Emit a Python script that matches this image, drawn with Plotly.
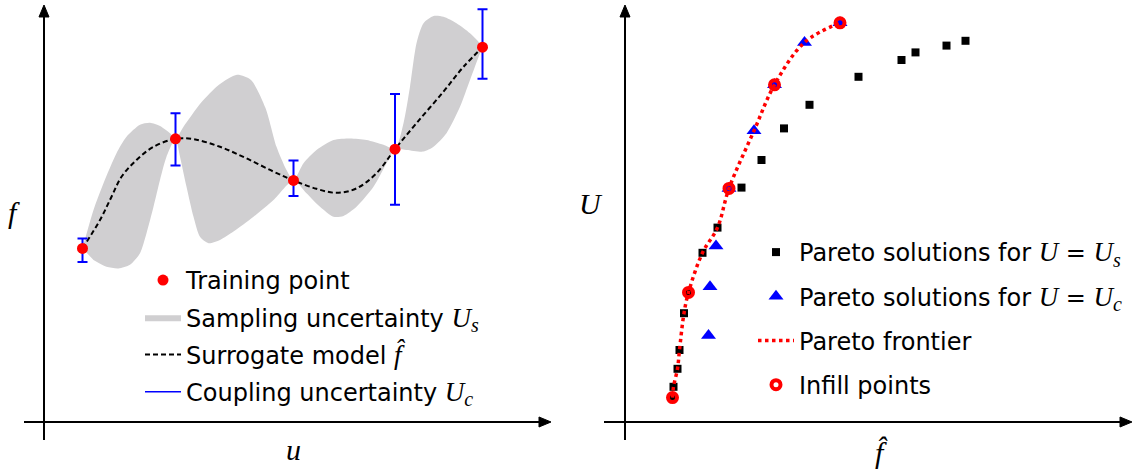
import plotly.graph_objects as go

W, H = 1137, 470

# ---------------- Left panel data (u, f in arbitrary units) ----------------
train_u = [0.77, 2.63, 4.99, 7.02, 8.77]
train_f = [4.34, 7.08, 6.04, 6.82, 9.37]
uc_plus = [0.25, 0.64, 0.50, 1.38, 0.95]
uc_minus = [0.34, 0.67, 0.39, 1.39, 0.79]

surr_u = [0.77, 1.12, 1.35, 1.55, 1.85, 2.19, 2.63, 2.99, 3.52, 4.05, 4.59,
          4.99, 5.45, 5.85, 6.25, 6.65, 7.02, 7.45, 7.99, 8.39, 8.77]
surr_f = [4.34, 5.05, 5.63, 6.13, 6.55, 6.88, 7.08, 7.07, 6.88, 6.59, 6.26,
          6.04, 5.83, 5.73, 5.84, 6.22, 6.82, 7.47, 8.26, 8.88, 9.37]

band_up_u = [0.77, 0.99, 1.19, 1.45, 1.65, 1.92, 2.12, 2.32, 2.52, 2.63, 2.79,
             3.14, 3.50, 3.86, 4.14, 4.43, 4.65, 4.85, 4.99, 5.19, 5.45, 5.79,
             6.12, 6.45, 6.79, 7.02, 7.19, 7.32, 7.45, 7.59, 7.79, 7.99, 8.25,
             8.52, 8.77]
band_up_f = [4.34, 5.30, 5.97, 6.72, 7.13, 7.43, 7.48, 7.40, 7.22, 7.08, 7.38,
             7.98, 8.43, 8.68, 8.55, 7.85, 6.88, 6.30, 6.04, 6.47, 6.80, 7.05,
             7.09, 7.05, 6.93, 6.82, 7.47, 8.38, 9.47, 9.97, 10.15, 10.13, 9.97,
             9.72, 9.37]
band_lo_u = [0.77, 0.99, 1.25, 1.49, 1.72, 1.92, 2.05, 2.19, 2.32, 2.45, 2.63,
             2.72, 2.85, 2.99, 3.12, 3.29, 3.52, 3.79, 4.19, 4.59, 4.99, 5.25,
             5.52, 5.79, 5.99, 6.25, 6.59, 6.85, 7.02, 7.25, 7.59, 7.79, 8.05,
             8.32, 8.52, 8.72, 8.77]
band_lo_f = [4.34, 4.05, 3.88, 3.84, 3.93, 4.22, 4.72, 5.38, 6.05, 6.63, 7.08,
             6.63, 5.88, 5.13, 4.63, 4.47, 4.55, 4.76, 5.13, 5.55, 6.04, 5.72,
             5.38, 5.13, 5.15, 5.38, 5.88, 6.47, 6.82, 6.80, 6.76, 6.88, 7.22,
             7.88, 8.55, 9.22, 9.37]

# ---------------- Right panel data (f_hat, U in arbitrary units) ----------------
us_F = [0.95, 0.97, 1.05, 1.09, 1.18, 1.27, 1.55, 1.85, 2.33, 2.73, 3.18, 3.69,
        4.67, 5.53, 5.81, 6.43, 6.81]
us_U = [0.61, 0.88, 1.33, 1.80, 2.72, 3.24, 4.23, 4.86, 5.86, 6.55, 7.34, 7.93,
        8.63, 9.05, 9.24, 9.41, 9.53]
uc_F = [1.67, 1.70, 1.82, 2.08, 2.58, 2.99, 3.59, 4.30]
uc_U = [2.16, 3.38, 4.40, 5.84, 7.28, 8.43, 9.49, 9.98]
front_F = [0.95, 0.97, 1.05, 1.09, 1.18, 1.27, 1.55, 1.85, 2.08, 2.58, 2.99, 3.59, 4.30]
front_U = [0.61, 0.88, 1.33, 1.80, 2.72, 3.24, 4.23, 4.86, 5.84, 7.28, 8.43, 9.49, 9.98]
infill_F = [0.95, 1.27, 2.08, 2.99, 4.30]
infill_U = [0.61, 3.24, 5.84, 8.43, 9.98]

SERIF = "Liberation Serif"
def m(s, size=27):
    return f'<span style="font-family:{SERIF};font-size:{size}px"><i>{s}</i></span>'

def sub(s):
    return "<sub>" + m(s, 20) + "</sub>"

fig = go.Figure()

# band
fig.add_trace(go.Scatter(
    x=band_up_u + band_lo_u[-2:0:-1], y=band_up_f + band_lo_f[-2:0:-1],
    mode="lines", fill="toself", fillcolor="rgb(208,207,209)",
    line=dict(color="rgba(0,0,0,0)", width=0, shape="spline", smoothing=0.7),
    name="Sampling uncertainty " + m("U") + sub("s"),
    legend="legend", legendrank=2, legendgroup="b", xaxis="x", yaxis="y"))
# surrogate
fig.add_trace(go.Scatter(
    x=surr_u, y=surr_f, mode="lines",
    line=dict(color="black", width=2, dash="5px,3px", shape="spline"),
    name="Surrogate model " + m("f̂"),
    legend="legend", legendrank=3, legendgroup="c", xaxis="x", yaxis="y"))
# coupling uncertainty error bars
fig.add_trace(go.Scatter(
    x=train_u, y=train_f, mode="markers", marker=dict(size=1, opacity=0),
    error_y=dict(type="data", symmetric=False, array=uc_plus, arrayminus=uc_minus,
                 color="blue", thickness=2, width=5),
    showlegend=False, hoverinfo="skip", xaxis="x", yaxis="y"))
fig.add_trace(go.Scatter(
    x=[None], y=[None], mode="lines", line=dict(color="blue", width=1.5),
    name="Coupling uncertainty " + m("U") + sub("c"),
    legend="legend", legendrank=4, legendgroup="d", xaxis="x", yaxis="y"))
# training points
fig.add_trace(go.Scatter(
    x=train_u, y=train_f, mode="markers",
    marker=dict(color="red", size=11, line=dict(width=0)),
    name="Training point", legend="legend", legendrank=1, legendgroup="a",
    xaxis="x", yaxis="y"))

# right panel
fig.add_trace(go.Scatter(
    x=us_F, y=us_U, mode="markers", marker=dict(symbol="square", color="black", size=8),
    name="Pareto solutions for " + m("U") + " = " + m("U") + sub("s"),
    legend="legend2", legendgroup="e", xaxis="x2", yaxis="y2"))
fig.add_trace(go.Scatter(
    x=uc_F, y=uc_U, mode="markers", marker=dict(symbol="triangle-up", color="blue", size=13),
    name="Pareto solutions for " + m("U") + " = " + m("U") + sub("c"),
    legend="legend2", legendgroup="f", xaxis="x2", yaxis="y2"))
fig.add_trace(go.Scatter(
    x=front_F, y=front_U, mode="lines",
    line=dict(color="red", width=3.5, dash="dot", shape="spline"),
    name="Pareto frontier", legend="legend2", legendgroup="g", xaxis="x2", yaxis="y2"))
fig.add_trace(go.Scatter(
    x=infill_F, y=infill_U, mode="markers",
    marker=dict(symbol="circle-open", color="red", size=9, line=dict(width=4, color="red")),
    name="Infill points", legend="legend2", legendgroup="h", xaxis="x2", yaxis="y2"))

ax_common = dict(visible=False, showgrid=False, zeroline=False)
fig.update_layout(
    width=W, height=H, margin=dict(l=0, r=0, t=0, b=0),
    paper_bgcolor="white", plot_bgcolor="white",
    font=dict(family="DejaVu Sans", color="black"),
    xaxis=dict(domain=[0, 560 / W], range=[-0.88, 10.32], **ax_common),
    yaxis=dict(domain=[0, 1], range=[-1.2, 10.55], **ax_common),
    xaxis2=dict(domain=[560 / W, 1], range=[-1.3, 10.24], **ax_common),
    yaxis2=dict(domain=[0, 1], range=[-1.2, 10.55], anchor="x2", **ax_common),
    legend=dict(x=140 / W, y=1 - 258 / H, xanchor="left", yanchor="top",
                bgcolor="rgba(0,0,0,0)", font=dict(size=24, family="DejaVu Sans"),
                traceorder="grouped", tracegroupgap=3, itemwidth=36),
    legend2=dict(x=753 / W, y=1 - 230 / H, xanchor="left", yanchor="top",
                 bgcolor="rgba(0,0,0,0)", font=dict(size=24, family="DejaVu Sans"),
                 traceorder="grouped", tracegroupgap=10, itemwidth=36),
    showlegend=True,
)

# axes drawn as lines with filled triangular arrowheads (pixel positions -> paper)
def P(px, py):
    return px / W, 1 - py / H

def axis_arrow(tail, tip, horizontal):
    L, hw = 12, 5
    if horizontal:
        base = (tip[0] - L, tip[1])
        pts = [tip, (base[0], base[1] - hw), (base[0], base[1] + hw)]
    else:
        base = (tip[0], tip[1] + L)
        pts = [tip, (base[0] - hw, base[1]), (base[0] + hw, base[1])]
    x0, y0 = P(*tail)
    x1, y1 = P(*base)
    fig.add_shape(type="line", xref="paper", yref="paper", x0=x0, y0=y0, x1=x1, y1=y1,
                  line=dict(color="black", width=2))
    path = "M " + " L ".join(f"{P(*p)[0]:.5f},{P(*p)[1]:.5f}" for p in pts) + " Z"
    fig.add_shape(type="path", xref="paper", yref="paper", path=path,
                  fillcolor="black", line=dict(color="black", width=1))

axis_arrow((44, 440), (44, 5), False)
axis_arrow((24, 422), (551, 422), True)
axis_arrow((625, 440), (625, 5), False)
axis_arrow((604, 422), (1132, 422), True)

def label(txt, px, py, size):
    fig.add_annotation(x=px / W, y=1 - py / H, xref="paper", yref="paper",
                       text=f"<i>{txt}</i>", showarrow=False,
                       font=dict(family=SERIF, size=size, color="black"),
                       xanchor="center", yanchor="middle")

label("f", 14, 212, 30)
label("u", 293, 449, 30)
label("U", 591, 204, 30)
label("f̂", 882, 452, 30)

fig.write_html("out.html")
